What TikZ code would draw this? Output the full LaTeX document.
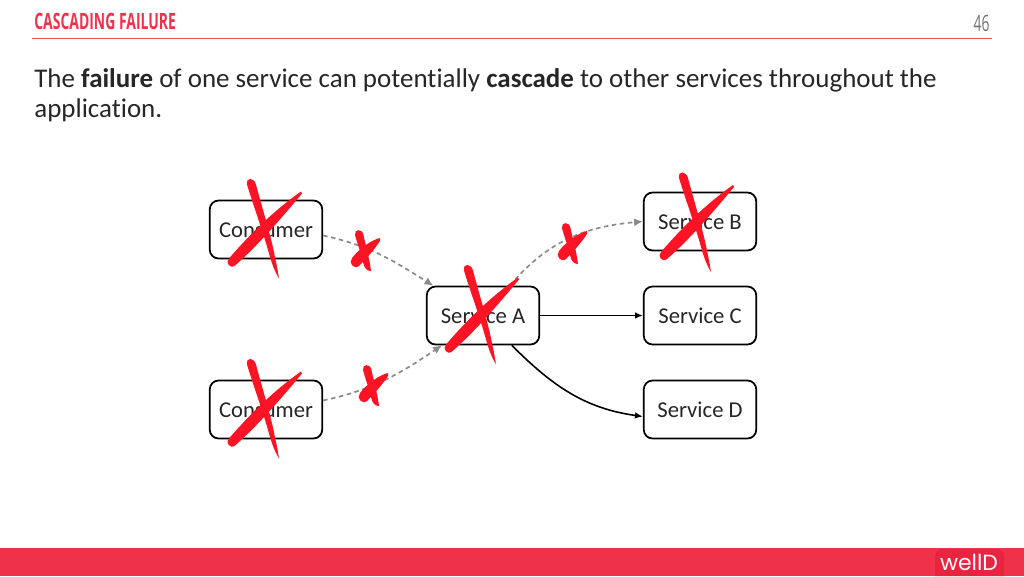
\documentclass[tikz,border=0pt]{standalone}
\usepackage{fontspec}
\setmainfont[Ligatures=NoCommon]{Carlito}
\newfontfamily\titlefont[FakeStretch=0.62]{Open Sans}
\newfontfamily\logofont{Poppins}
\usetikzlibrary{arrows.meta}

\definecolor{slidered}{HTML}{EF3249}
\definecolor{logored}{HTML}{EA2440}
\definecolor{crossred}{HTML}{FC1424}
\definecolor{deadgray}{HTML}{8A8A8A}

\tikzset{
    svcbox/.style={draw, line width=1pt, rounded corners=5pt, minimum width=64pt, minimum height=33pt, inner sep=0pt, text height=11pt, text depth=2pt, font=\fontsize{12.9}{15}\selectfont, text=black!85},
    live/.style={-{Latex[length=4.5pt,width=3.8pt]}, line width=0.9pt},
    dead/.style={-{Latex[length=5pt,width=4.6pt]}, line width=0.95pt, deadgray, dash pattern=on 2.6pt off 2pt},
    bigcross/.pic={
        \fill[crossred] (-19,-45) .. controls (-20,-53) and (-12,-52) .. (-10,-45) .. controls (-4,-22) and (6,10) .. (9,28) .. controls (11,36) and (12,43) .. (13,49) .. controls (9,42) and (7,38) .. (3,24) .. controls (-3,2) and (-14,-28) .. (-19,-45) -- cycle;
        \fill[crossred] (35,-38) .. controls (12,-22) and (-14,2) .. (-37,29) .. controls (-41,33) and (-36,40) .. (-31,36) .. controls (-8,16) and (16,-12) .. (36,-36) -- cycle;
    },
    smallcross/.pic={
        \fill[crossred] (-10,-15) .. controls (-11,-21) and (-3,-22) .. (-1.5,-15) .. controls (0.5,-5) and (4.5,8) .. (6,21) .. controls (2,21) and (-1,18) .. (-2,12) .. controls (-4,3) and (-8,-7) .. (-10,-15) -- cycle;
        \fill[crossred] (15,-12) .. controls (6,-10) and (-6,-1) .. (-13,8) .. controls (-17,13) and (-11,20) .. (-6,16) .. controls (1,9) and (9,0) .. (15,-9) -- cycle;
    }
}

\begin{document}
\begin{tikzpicture}[x=0.02cm, y=-0.02cm]
    \useasboundingbox (0,0) rectangle (1024,576);

    % kopf
    \node[anchor=base west, inner sep=0pt, text=slidered, font=\titlefont\bfseries\fontsize{12.8}{14}\selectfont] (title) at (34,29) {CASCADING FAILURE};
    \node[anchor=base east, inner sep=0pt, text=black!55, font=\titlefont\fontsize{12.8}{14}\selectfont] (pagenum) at (990,31) {46};
    \draw[slidered!85, line width=0.8pt] (32,38.5) -- (992,38.5);

    % text
    \node[anchor=base west, inner sep=0pt, align=left, text=black!85, font=\fontsize{15.35}{17}\selectfont] (intro) at (34,117) {The \textbf{failure} of one service can potentially \textbf{cascade} to other services throughout the\\application.};

    % boxen
    \node[svcbox] (consumerA) at (266,229.5) {Consumer};
    \node[svcbox] (consumerB) at (266,409.5) {Consumer};
    \node[svcbox] (serviceA) at (483,315.5) {Service A};
    \node[svcbox] (serviceB) at (700,221.5) {Service B};
    \node[svcbox] (serviceC) at (700,315.5) {Service C};
    \node[svcbox] (serviceD) at (700,409.5) {Service D};

    % pfeile
    \draw[dead] (consumerA.-6.5) to[out=-12, in=148] (serviceA.149);
    \draw[dead] (consumerB.9.5) to[out=12, in=214] (serviceA.216);
    \draw[dead] (serviceA.48) to[out=50, in=185] (serviceB.west);
    \draw[live] (serviceA.east) -- (serviceC.west);
    \draw[live] (serviceA.-46.5) to[out=-45, in=172] (serviceD.187);

    % kreuze
    \pic at (consumerA) {bigcross};
    \pic at (consumerB) {bigcross};
    \pic at (serviceA) {bigcross};
    \pic at (698,223) {bigcross};
    \pic at (365,250) {smallcross};
    \pic at (373,385) {smallcross};
    \pic at (572,243) {smallcross};

    % fuss
    \fill[slidered] (0,548) rectangle (1024,576);
    \fill[logored, rounded corners=4pt] (935,576) -- (935,549) -- (1004,549) -- (1004,576);
    \node[text=white, inner sep=0pt, font=\logofont\fontsize{12.5}{14}\selectfont] (logo) at (969,562.5) {wellD};
\end{tikzpicture}
\end{document}
